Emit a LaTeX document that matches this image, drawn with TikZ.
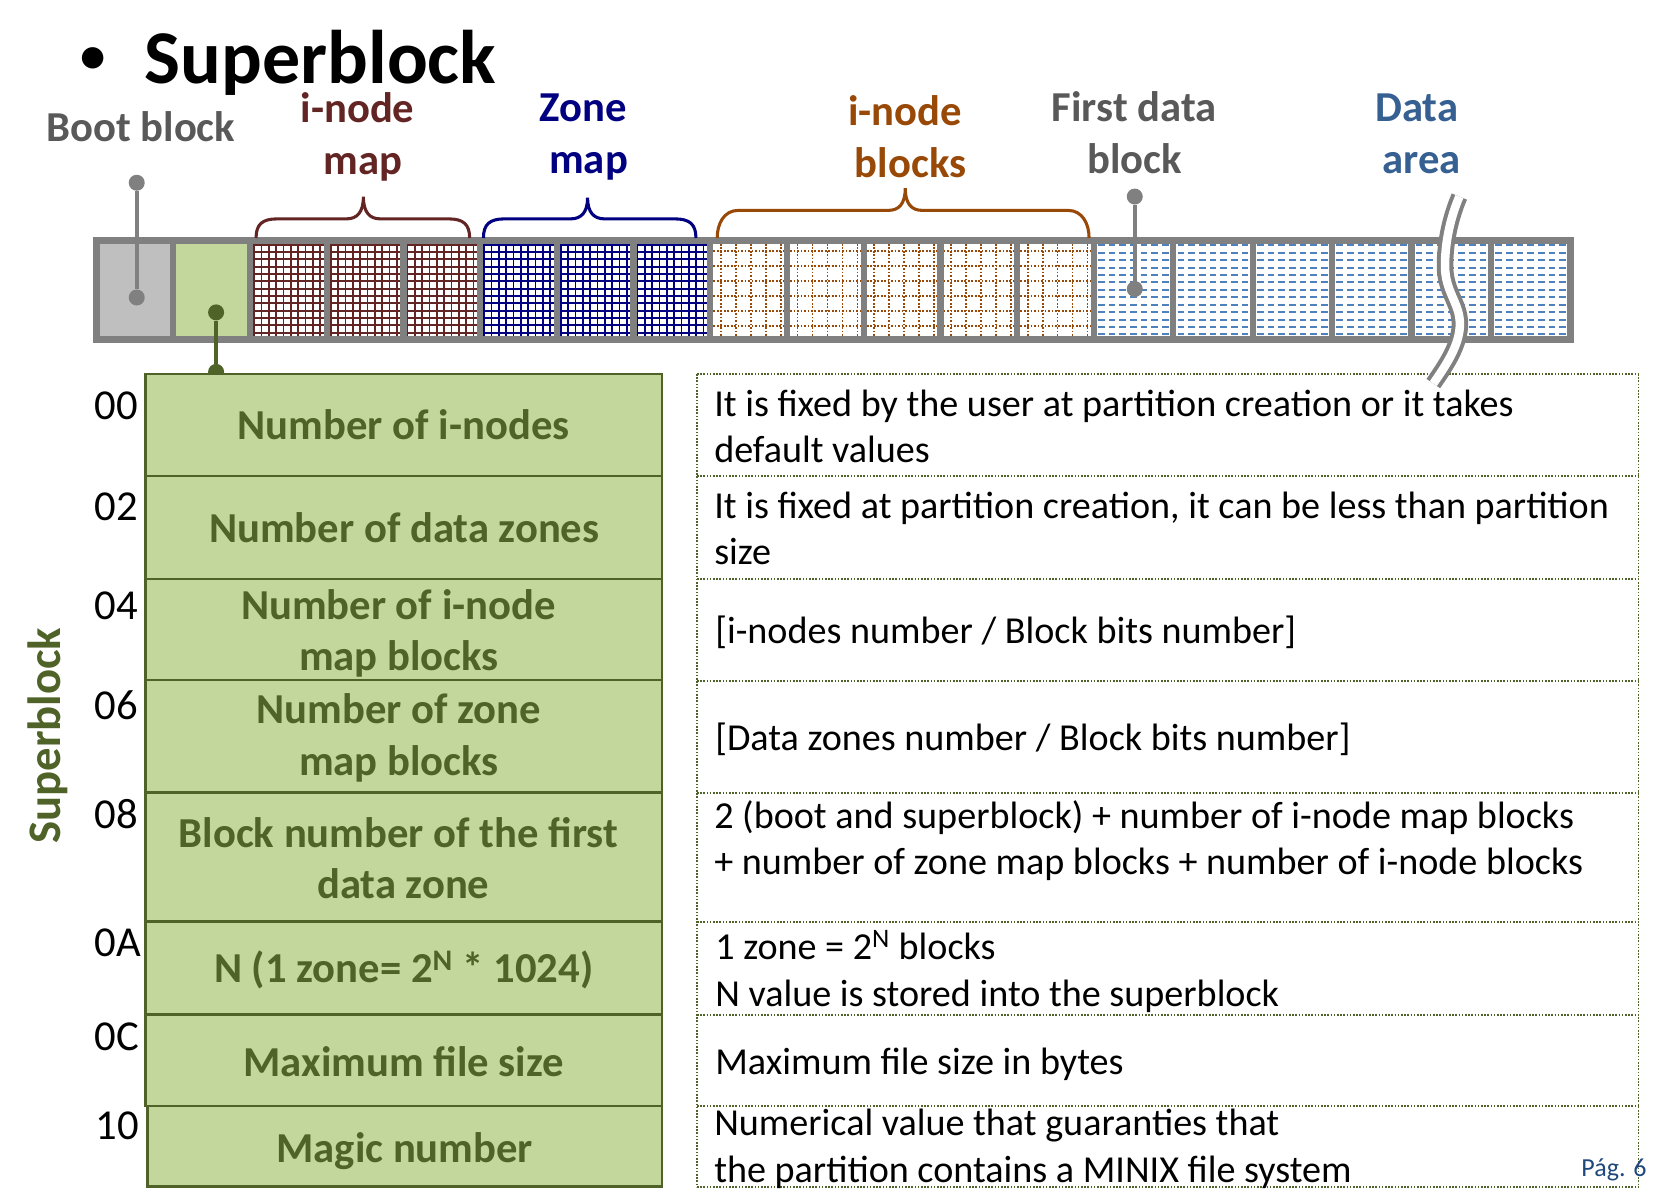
\documentclass[tikz,border=0pt]{standalone}
\usepackage{fontspec}
\setmainfont{Carlito}
\definecolor{olivedk}{HTML}{4F6228}
\definecolor{olivefill}{HTML}{C3D69B}
\definecolor{stripgray}{HTML}{808080}
\definecolor{bootfill}{HTML}{BFBFBF}
\definecolor{imapred}{HTML}{632523}
\definecolor{zmapblue}{HTML}{000080}
\definecolor{iblkorange}{HTML}{984807}
\definecolor{labelgray}{HTML}{595959}
\definecolor{areablue}{HTML}{366092}
\definecolor{dashblue}{HTML}{4F81BD}
\definecolor{pagblue}{HTML}{1F497D}
\tikzset{
 lbl/.style={font=\fontsize{32}{38}\selectfont\bfseries, inner sep=0pt, anchor=base},
 fld/.style={font=\fontsize{32}{38}\selectfont\bfseries, text=olivedk, inner sep=0pt, anchor=base},
 dsc/.style={font=\fontsize{28.6}{34}\selectfont, inner sep=0pt, anchor=base west},
 ofs/.style={font=\fontsize{32}{38}\selectfont, inner sep=0pt, anchor=base west},
 lcell/.style={draw=olivedk, fill=olivefill, line width=2pt},
 rline/.style={draw=olivedk, line width=1.3pt, dash pattern=on 1.2pt off 1.2pt},
 brc/.style={line width=2.3pt},
 pinln/.style={line width=3pt},
 pindot/.style={circle, inner sep=0pt, minimum size=12pt},
 bord/.style={draw=stripgray, line width=4.8pt},
}
\newcommand\mybrace[6]{%
  \draw[brc,#6] (#1,224) .. controls (#1,211) and ({#1+6},#4) .. ({#1+20},#4) -- ({#3-16},#4) .. controls ({#3-6},#4) and (#3,{#4-6}) .. (#3,#5) .. controls (#3,{#4-6}) and ({#3+6},#4) .. ({#3+16},#4) -- ({#2-20},#4) .. controls ({#2-6},#4) and (#2,211) .. (#2,224);
}
\begin{document}
\begin{tikzpicture}[x=0.796875pt,y=-0.796875pt]
\fill[white] (0,0) rectangle (1568,1124);
\useasboundingbox (0,0) rectangle (1568,1124);

% title
\node[font=\fontsize{38}{40}\selectfont\bfseries, inner sep=0pt, anchor=base] (bullet) at (87.5,68.5) {•};
\node[font=\fontsize{57}{60}\selectfont\bfseries, inner sep=0pt, anchor=base west] (title) at (136,78.4) {Superblock};

% strip fills
\fill[bootfill] (90.9,226.5) rectangle (163.1,319.5);
\fill[olivefill] (163.1,226.5) rectangle (235.3,319.5);
\foreach \L/\c in {235.3/imapred,307.5/imapred,379.7/imapred,451.9/zmapblue,524.1/zmapblue,596.3/zmapblue}{
  \begin{scope}
    \clip (\L,226.5) rectangle ({\L+72.2},319.5);
    \foreach \k in {0,...,10} \draw[\c,line width=1.3pt] ({\L+3.8+\k*6.9},226.5) -- ({\L+3.8+\k*6.9},319.5);
    \foreach \k in {0,...,13} \draw[\c,line width=1.3pt] (\L,{230.3+\k*6.9}) -- ({\L+72.2},{230.3+\k*6.9});
  \end{scope}
}
\foreach \L in {668.5,740.7,812.9,885.1,957.3}{
  \foreach \k in {0,...,4} \draw[iblkorange,line width=1.3pt,dash pattern=on 1.3pt off 1.3pt] ({\L+9.9+\k*14.1},229.5) -- ({\L+9.9+\k*14.1},316.5);
  \foreach \k in {0,...,5} \draw[iblkorange,line width=1.3pt,dash pattern=on 1.3pt off 1.3pt] ({\L+3},{236.4+\k*14.1}) -- ({\L+69.2},{236.4+\k*14.1});
}
\foreach \L in {1029.5,1104.25,1179,1253.75,1328.5,1403.25}{
  \foreach \k in {0,...,12} \draw[dashblue,line width=1.5pt,dash pattern=on 5pt off 3pt] ({\L+4},{230.8+\k*7}) -- ({\L+71.75},{230.8+\k*7});
}
% strip borders
\draw[bord] (90.9,226.5) rectangle (1478,319.5);
\foreach \x in {163.1,235.3,307.5,379.7,451.9,524.1,596.3,668.5,740.7,812.9,885.1,957.3,1029.5,1104.25,1179,1253.75,1328.5,1403.25}
  \draw[bord] (\x,226.5) -- (\x,319.5);

% braces
\mybrace{241}{442}{342}{206}{185}{imapred}
\mybrace{455}{655}{553}{206}{186}{zmapblue}
\mybrace{675}{1025}{852}{198}{177}{iblkorange}

% labels
\node[lbl, text=labelgray] (boot) at (132.5,133.5) {Boot block};
\node[lbl, text=imapred] (imap1) at (336.5,115.5) {i-node};
\node[lbl, text=imapred] (imap2) at (341.5,164) {map};
\node[lbl, text=zmapblue] (zmap1) at (549,114.5) {Zone};
\node[lbl, text=zmapblue] (zmap2) at (554,163) {map};
\node[lbl, text=iblkorange] (iblk1) at (852,118.5) {i-node};
\node[lbl, text=iblkorange] (iblk2) at (857,167) {blocks};
\node[lbl, text=labelgray] (fdb1) at (1067.5,114.5) {First data};
\node[lbl, text=labelgray] (fdb2) at (1068,163) {block};
\node[lbl, text=areablue] (area1) at (1333.5,114.5) {Data};
\node[lbl, text=areablue] (area2) at (1338,163) {area};

% pins
\node[pindot, fill=stripgray] (bootT) at (128.7,172) {};
\node[pindot, fill=stripgray] (bootB) at (128.7,280) {};
\draw[pinln, stripgray] (bootT) -- (bootB);
\node[pindot, fill=stripgray] (fdbT) at (1068,185) {};
\node[pindot, fill=stripgray] (fdbB) at (1068,272) {};
\draw[pinln, stripgray] (fdbT) -- (fdbB);
\node[pindot, fill=olivedk] (sbT) at (203.4,294) {};
\node[pindot, fill=olivedk] (sbB) at (203.4,350) {};
\draw[pinln, olivedk] (sbT) -- (sbB);

% left table
\draw[lcell] (137,352) rectangle (623,448);
\draw[lcell] (137,448) rectangle (623,545);
\draw[lcell] (137,545) rectangle (623,640);
\draw[lcell] (137,640) rectangle (623,746);
\draw[lcell] (137,746) rectangle (623,867);
\draw[lcell] (137,867) rectangle (623,955);
\draw[lcell] (137,955) rectangle (623,1041);
\draw[lcell] (139,1041) rectangle (623,1117);

\node[fld] (f0) at (380,414) {Number of i-nodes};
\node[fld] (f1) at (380.5,511) {Number of data zones};
\node[fld] (f2a) at (375,583) {Number of i-node};
\node[fld] (f2b) at (375.5,631) {map blocks};
\node[fld] (f3a) at (375.5,681) {Number of zone};
\node[fld] (f3b) at (375.5,730) {map blocks};
\node[fld] (f4a) at (375,798) {Block number of the first};
\node[fld] (f4b) at (379.5,846) {data zone};
\node[fld] (f5) at (380,925) {N (1 zone= 2\textsuperscript{N} * 1024)};
\node[fld] (f6) at (380,1013) {Maximum file size};
\node[fld] (f7) at (381,1094) {Magic number};

% offsets
\node[ofs] (o0) at (89,395) {00};
\node[ofs] (o1) at (89,489.5) {02};
\node[ofs] (o2) at (89,583.5) {04};
\node[ofs] (o3) at (89,677) {06};
\node[ofs] (o4) at (89,780) {08};
\node[ofs] (o5) at (89,900) {0A};
\node[ofs] (o6) at (89,989) {0C};
\node[ofs] (o7) at (90,1072) {10};

% vertical label
\node[font=\fontsize{35}{40}\selectfont\bfseries, text=olivedk, rotate=90, anchor=base, inner sep=0pt] (sbv) at (57,692.5) {Superblock};

% right table
\foreach \y in {352,448,545,641,746,868,955,1041,1117}
  \draw[rline] (656,\y) -- (1542,\y);
\draw[rline] (656,352) -- (656,1117);
\draw[rline] (1542,352) -- (1542,1117);

\node[dsc] (d0a) at (672,392) {It is fixed by the user at partition creation or it takes};
\node[dsc] (d0b) at (672,435) {default values};
\node[dsc] (d1a) at (672,488) {It is fixed at partition creation, it can be less than partition};
\node[dsc] (d1b) at (672,531) {size};
\node[dsc] (d2) at (673,606) {[i-nodes number / Block bits number]};
\node[dsc] (d3) at (673,706) {[Data zones number / Block bits number]};
\node[dsc] (d4a) at (672,780) {2 (boot and superblock) + number of i-node map blocks};
\node[dsc] (d4b) at (672,823) {+ number of zone map blocks + number of i-node blocks};
\node[dsc] (d5a) at (673,903) {1 zone = 2\textsuperscript{N} blocks};
\node[dsc] (d5b) at (673,947) {N value is stored into the superblock};
\node[dsc] (d6) at (673,1011) {Maximum file size in bytes};
\node[dsc] (d7a) at (672,1069) {Numerical value that guaranties that};
\node[dsc] (d7b) at (672,1113) {the partition contains a MINIX file system};

\node[font=\fontsize{19.5}{22}\selectfont, text=pagblue, anchor=base east, inner sep=0pt] (pag) at (1550,1107.5) {Pág. 6};

% break mark
\def\brkpath{(1373.5,185) .. controls (1365,205) and (1360,228) .. (1360,250) .. controls (1360,275) and (1374,285) .. (1374,305) .. controls (1374,325) and (1360,345) .. (1349,361)}
\draw[stripgray, line width=12.4pt] \brkpath;
\draw[white, line width=6.4pt] \brkpath;
\end{tikzpicture}
\end{document}
